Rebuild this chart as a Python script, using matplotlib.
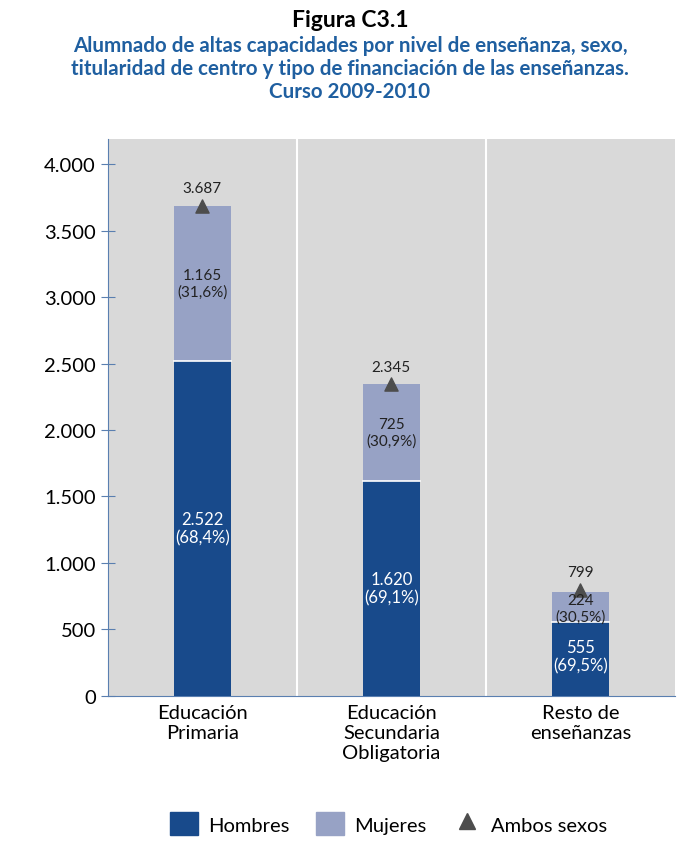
import matplotlib
matplotlib.use("Agg")
import matplotlib.pyplot as plt
from matplotlib.lines import Line2D
from matplotlib.patches import Patch

categories = ["Educación\nPrimaria", "Educación\nSecundaria\nObligatoria", "Resto de\nenseñanzas"]
hombres = [2522, 1620, 555]
mujeres = [1165, 725, 224]
ambos = [3687, 2345, 799]
hombres_lbl = ["2.522\n(68,4%)", "1.620\n(69,1%)", "555\n(69,5%)"]
mujeres_lbl = ["1.165\n(31,6%)", "725\n(30,9%)", "224\n(30,5%)"]
ambos_lbl = ["3.687", "2.345", "799"]
yticks = [0, 500, 1000, 1500, 2000, 2500, 3000, 3500, 4000]
ytick_lbl = ["0", "500", "1.000", "1.500", "2.000", "2.500", "3.000", "3.500", "4.000"]

plt.rcParams['font.family'] = ['Lato', 'DejaVu Sans']
C_H = "#184a8b"; C_M = "#97a2c5"; C_T = "#4d4d4d"
fig = plt.figure(figsize=(7, 8.53), dpi=100)
ax = fig.add_axes([0.154, 0.183, 0.81, 0.653])
ax.set_facecolor("#d9d9d9")
x = range(len(categories))
ax.bar(x, hombres, width=0.3, color=C_H, zorder=3)
ax.bar(x, mujeres, width=0.3, bottom=hombres, color=C_M, zorder=3, linewidth=0)
for i in x:
    ax.plot([i-0.15, i+0.15], [hombres[i]]*2, color="white", lw=1.2, zorder=4)
ax.scatter(x, ambos, marker="^", s=90, color=C_T, zorder=5)
for i in x:
    ax.text(i, ambos[i] + 80, ambos_lbl[i], ha="center", va="bottom", fontsize=11, color="#222")
    ax.text(i, hombres[i] + mujeres[i]/2 - (0 if i < 2 else 10), mujeres_lbl[i], ha="center", va="center", fontsize=11, color="#222", zorder=6)
    ax.text(i, hombres[i]/2 if i < 2 else hombres[i]/2 + 20, hombres_lbl[i], ha="center", va="center", fontsize=12, color="white", zorder=6)
for s in [0.5, 1.5]:
    ax.axvline(s, color="white", lw=1.5, zorder=1)
ax.set_xlim(-0.5, 2.5)
ax.set_ylim(0, 4190)
ax.set_yticks(yticks)
ax.set_yticklabels(ytick_lbl, fontsize=14.5)
ax.set_xticks(list(x))
ax.set_xticklabels(categories, fontsize=14.5)
for sp in ["top", "right"]:
    ax.spines[sp].set_visible(False)
ax.spines["left"].set_color("#5a7fb0")
ax.spines["bottom"].set_color("#5a7fb0")
ax.tick_params(axis="y", direction="inout", length=10, color="#5a7fb0")
ax.tick_params(axis="x", length=0, pad=6)
fig.text(0.5, 0.988, "Figura C3.1", ha="center", va="top", fontsize=16.5, fontweight="bold")
fig.text(0.5, 0.958, "Alumnado de altas capacidades por nivel de enseñanza, sexo,\ntitularidad de centro y tipo de financiación de las enseñanzas.\nCurso 2009-2010",
         ha="center", va="top", fontsize=14.8, fontweight="bold", color="#1f5fa0", linespacing=1.2)
handles = [Patch(color=C_H, label="Hombres"), Patch(color=C_M, label="Mujeres"),
           Line2D([], [], marker="^", color=C_T, lw=0, markersize=11, label="Ambos sexos")]
fig.legend(handles=handles, loc="center", bbox_to_anchor=(0.555, 0.033), ncol=3, frameon=False,
           fontsize=14.5, handlelength=1.4, handleheight=1.4, columnspacing=1.3, handletextpad=0.5)
fig.savefig("out.png", dpi=100)
